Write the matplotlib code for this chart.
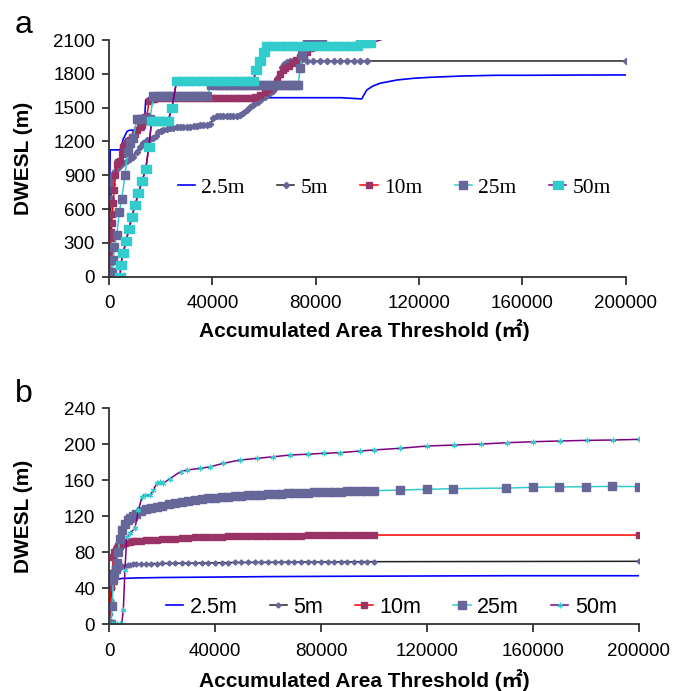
import matplotlib
matplotlib.use('Agg')
import matplotlib.pyplot as plt

plt.rcParams['font.family'] = ['Liberation Sans', 'Noto Sans CJK SC', 'DejaVu Sans']

# ---------- panel a ----------
x_a_2p5 = [0, 250, 450, 2000, 4300, 5500, 7000, 8100, 11000, 13500, 13900, 14200, 15500, 30000,
           60000, 90000, 97800, 99750, 102000, 104900, 111400, 117800, 124300, 137200, 150100,
           163000, 180000, 200000]
y_a_2p5 = [0, 700, 1125, 1125, 1125, 1220, 1290, 1300, 1300, 1300, 1450, 1568, 1588, 1588,
           1588, 1588, 1577, 1656, 1690, 1716, 1745, 1760, 1769, 1781, 1787,
           1787, 1789, 1790]

x_a_5 = [0, 200, 400, 600, 800, 1000, 1300, 1600, 2000, 2300,
         3000, 4300, 5500, 6900, 8000, 9400, 10700, 12000, 13300, 14600,
         15900, 17100, 18100, 19100, 20000, 21000, 22300, 23600, 24900, 26200,
         27500, 28800, 30100, 31400, 32700, 34000, 35200, 36500, 37800, 39100,
         40400, 41700, 43000, 44200, 45500, 46800, 48100, 49400, 50700, 52000,
         53300, 54600, 55600, 56500, 57500, 58500, 59400, 60400, 61300, 62300,
         63300, 64300, 65500, 66900, 67800, 68800, 70000, 71300, 72600, 73900,
         76500, 79100, 81700, 84300, 86900, 89500, 92100, 94700, 97200, 99800,
         200000]
y_a_5 = [0, 150, 350, 550, 700, 820, 870, 900, 920, 935,
         955, 980, 1005, 1030, 1045, 1065, 1110, 1153, 1190, 1213,
         1220, 1228, 1250, 1280, 1290, 1300, 1310, 1316, 1320, 1325,
         1328, 1330, 1330, 1332, 1336, 1340, 1343, 1346, 1350, 1355,
         1405, 1426, 1426, 1426, 1426, 1426, 1426, 1426, 1432, 1449,
         1479, 1508, 1525, 1538, 1553, 1568, 1583, 1597, 1612, 1627,
         1650, 1672, 1774, 1863, 1890, 1907, 1912, 1914, 1914, 1914,
         1914, 1914, 1914, 1914, 1914, 1914, 1914, 1914, 1914, 1914,
         1914]

x_a_10 = [0, 150, 300, 450, 600, 750, 900, 1100, 1300, 1600,
          2000, 2500, 2900, 3500, 4200, 5000, 5500, 6200, 6800, 7400,
          8000, 8700, 9400, 10200, 11000, 12000, 12700, 13400, 14000, 14700,
          15500, 16500, 17500, 19000, 20500, 22000, 23500, 25000, 26500, 28000,
          29500, 31000, 32500, 34000, 35500, 37000, 38500, 40000, 41500, 43000,
          44500, 46000, 47500, 49000, 50500, 52000, 53500, 55000, 56500, 58500,
          60400, 62000, 63500, 65000, 66300, 67300, 68200, 69500, 70800, 72400,
          74000, 75300, 76600, 78000, 79500, 81000, 82000]
y_a_10 = [0, 60, 130, 200, 270, 340, 400, 480, 560, 650,
          770, 900, 1000, 1015, 1030, 1090, 1150, 1170, 1183, 1200,
          1215, 1230, 1242, 1270, 1300, 1330, 1350, 1380, 1420, 1430,
          1560, 1575, 1580, 1585, 1585, 1585, 1585, 1585, 1585, 1585,
          1585, 1585, 1585, 1585, 1585, 1585, 1585, 1585, 1585, 1585,
          1585, 1585, 1585, 1585, 1585, 1585, 1585, 1585, 1595, 1615,
          1640, 1665, 1695, 1740, 1800, 1830, 1850, 1870, 1893, 1920,
          1952, 1975, 1996, 2030, 2060, 2090, 2110]

x_a_25 = [0, 500, 1000, 1500, 2100, 3000, 4000, 4900, 6200, 7200,
          8100, 9400, 10700, 12000, 13300, 14600, 15800, 17200, 18500, 20000,
          21500, 23000, 24500, 26000, 27500, 29000, 30500, 32000, 33500, 35000,
          36500, 38000, 39500, 41000, 42500, 44000, 45500, 47000, 48500, 50000,
          51500, 53000, 54500, 56000, 57500, 59000, 60500, 62000, 63500, 65000,
          66500, 68000, 69500, 71000, 72500, 73200, 74000, 74800, 75600, 76500,
          78000, 79500, 81000, 82500]
y_a_25 = [0, 0, 44, 150, 266, 370, 577, 687, 902, 1109,
          1183, 1228, 1396, 1396, 1396, 1396, 1396, 1600, 1600, 1600,
          1600, 1600, 1600, 1600, 1600, 1600, 1600, 1600, 1600, 1600,
          1600, 1600, 1700, 1700, 1700, 1700, 1700, 1700, 1700, 1700,
          1700, 1700, 1700, 1700, 1700, 1700, 1700, 1700, 1700, 1700,
          1700, 1700, 1700, 1700, 1700, 1700, 1850, 1967, 2040, 2100,
          2100, 2100, 2100, 2100]

x_a_50 = [4300, 4500, 5500, 6600, 7700, 8800, 10100, 11400, 12800, 14200,
          15400, 16500, 18100, 19700, 21300, 22900, 24300, 26200, 28600, 31000,
          33400, 35800, 38200, 40600, 43000, 45400, 47800, 50200, 52600, 55000,
          55800, 57000, 58400, 59800, 61000, 63500, 66000, 68500, 71000, 73500,
          76000, 78500, 81000, 83500, 86000, 88500, 91000, 93500, 96000, 97500,
          99000, 101000, 104900, 109400, 117700, 125000, 136000]
y_a_50 = [0, 104, 210, 317, 420, 527, 635, 745, 850, 953,
          1150, 1384, 1384, 1384, 1384, 1384, 1494, 1740, 1740, 1740,
          1740, 1740, 1740, 1740, 1740, 1740, 1740, 1740, 1740, 1740,
          1740, 1830, 1916, 1990, 2047, 2047, 2047, 2047, 2047, 2047,
          2047, 2047, 2047, 2047, 2047, 2047, 2047, 2047, 2047, 2070,
          2070, 2070, 2100, 2129, 2124, 2129, 2129]
n_a_50_marked = 52   # markers stop at ~101000, line keeps going

# ---------- panel b ----------
x_b = [0, 400, 800, 1200, 1600, 2000, 2500, 3000, 3500, 4000,
       5000, 6000, 7000, 8000, 9000, 10000, 12000, 14000, 16000, 18000,
       20000, 22500, 25000, 27500, 30000, 32500, 35000, 37500, 40000, 42500,
       45000, 47500, 50000, 52500, 55000, 57500, 60000, 62500, 65000, 67500,
       70000, 72500, 75000, 77500, 80000, 82500, 85000, 87500, 90000, 92500,
       95000, 97500, 100000]

x_b_2p5 = [0, 300, 600, 900, 3000, 5000, 10000, 20000, 40000, 60000, 80000, 100000, 150000, 200000]
y_b_2p5 = [0, 20, 45, 49, 50, 51, 51.5, 52, 52.5, 53, 53.3, 53.5, 54, 54]

y_b_5 = [0, 12, 27, 40, 48, 53, 57, 60, 62, 63,
         64.5, 65.3, 66, 66.3, 66.6, 66.8, 67, 67.2, 67.4, 67.5,
         67.6, 67.7, 67.8, 67.9, 68, 68.1, 68.2, 68.3, 68.4, 68.5,
         68.6, 68.7, 68.7, 68.8, 68.8, 68.9, 68.9, 69, 69, 69.1,
         69.1, 69.2, 69.2, 69.3, 69.3, 69.4, 69.4, 69.5, 69.5, 69.5,
         69.6, 69.6, 69.6]
y_b_5_end = 70

y_b_10 = [0, 20, 42, 57, 75, 80, 83, 85, 86.5, 87.5,
          89, 90.2, 91, 91.7, 92.2, 92.6, 93.1, 93.5, 93.9, 94.2,
          94.5, 94.9, 95.3, 95.7, 96.1, 96.5, 96.8, 97.1, 97.3, 97.5,
          97.6, 97.7, 97.8, 97.9, 98, 98.1, 98.2, 98.3, 98.4, 98.5,
          98.6, 98.6, 98.7, 98.8, 98.8, 98.9, 98.9, 99, 99, 99.1,
          99.1, 99.2, 99.2]
y_b_10_end = 99.2

y_b_25 = [0, 0, 0, 20, 49, 55, 62, 68, 80, 95,
          105, 112, 116, 118.5, 120.5, 122.5, 126, 128, 129.5, 130.7,
          131.8, 133.2, 134.6, 136, 137.5, 138.5, 139.3, 140, 140.6, 141.2,
          141.8, 142.4, 142.9, 143.3, 143.7, 144.1, 144.5, 144.9, 145.2, 145.5,
          145.8, 146.1, 146.4, 146.7, 146.9, 147.1, 147.3, 147.5, 147.7, 147.9,
          148.1, 148.3, 148.5]
x_b_25_tail = [110000, 120000, 130000, 150000, 160000, 170000, 180000, 190000, 200000]
y_b_25_tail = [149.2, 150, 150.7, 151.4, 152.2, 152.6, 152.9, 153.3, 153]

x_b_50 = [0, 1000, 2000, 3000, 4000, 4800, 5400, 6000, 6700, 7900,
          9800, 11100, 12400, 13600, 15500, 16700, 18000, 19300, 20500, 23100,
          27000, 29400, 34400, 38200, 43200, 49500, 55800, 62100, 68400, 75000,
          81000, 87300, 94900, 99900, 110000, 120100, 130200, 140300, 150400, 160200,
          170200, 180300, 190400, 200000]
y_b_50 = [0, 0, 0, 0, 0, 0, 16, 60, 97, 101,
          106.7, 127, 141, 143.7, 143.7, 149, 156.7, 158.4, 156.7, 162,
          169.6, 171.4, 173.3, 175, 178.9, 182.6, 184.4, 186.2, 188.1, 189,
          190, 190.7, 192.6, 193.7, 195.6, 198.1, 199.2, 200.3, 201.8, 202.9,
          203.7, 204.4, 204.8, 205.5]

labels = ['2.5m', '5m', '10m', '25m', '50m']

# couleurs facon Excel
BLUE = '#0000FF'
BLACK = '#222222'
RED = '#FF0000'
MAROON = '#993366'
SLATE = '#666699'
CYAN = '#33CCCC'
PURPLE = '#800080'
RECT = [(-1.4, -1), (1.4, -1), (1.4, 1), (-1.4, 1), (-1.4, -1)]

fig = plt.figure(figsize=(6.73, 6.91), dpi=100)
ax_a = fig.add_axes([0.162, 0.5996, 0.7677, 0.3425])
ax_b = fig.add_axes([0.162, 0.0965, 0.7870, 0.3126])


def style(ax, ymax, ystep):
    ax.set_xlim(0, 200000)
    ax.set_ylim(0, ymax)
    ax.set_xticks(range(0, 200001, 40000))
    ax.set_yticks(range(0, ymax + 1, ystep))
    for s in ['top', 'right']:
        ax.spines[s].set_visible(False)
    for s in ['left', 'bottom']:
        ax.spines[s].set_linewidth(1.3)
        ax.spines[s].set_color('#333333')
    ax.tick_params(axis='x', length=6, width=1.3, pad=7.5, labelsize=13.5, color='#333333')
    ax.tick_params(axis='y', length=5, width=1.3, pad=5, labelsize=13.5, color='#333333')


# Panneau a
ax_a.plot(x_a_2p5, y_a_2p5, color=BLUE, lw=1.2, label=labels[0])
ax_a.plot(x_a_5, y_a_5, color=BLACK, lw=1.1, marker='D', ms=3.2, mfc=SLATE, mec=SLATE, label=labels[1])
ax_a.plot(x_a_10, y_a_10, color=RED, lw=1.1, marker='s', ms=5, mfc=MAROON, mec=MAROON, label=labels[2])
ax_a.plot(x_a_25, y_a_25, color=CYAN, lw=1.1, marker='s', ms=6, mfc=SLATE, mec=SLATE, label=labels[3])
ax_a.plot(x_a_50, y_a_50, color=PURPLE, lw=1.1)
ax_a.plot(x_a_50[:n_a_50_marked], y_a_50[:n_a_50_marked], color=PURPLE, lw=1.1,
          marker=RECT, ms=7.7, mfc=CYAN, mec=CYAN, label=labels[4])
style(ax_a, 2100, 300)
ax_a.legend(loc='center', bbox_to_anchor=(0.552, 0.375), ncol=5, frameon=False,
            prop={'family': 'Liberation Serif', 'size': 15.5},
            handlelength=0.8, handletextpad=0.3, columnspacing=1.5)

# Panneau b
ax_b.plot(x_b_2p5, y_b_2p5, color=BLUE, lw=1.2, label=labels[0])
ax_b.plot(x_b + [200000], y_b_5 + [y_b_5_end], color=BLACK, lw=1.1, marker='D', ms=2.6,
          mfc=SLATE, mec=SLATE, label=labels[1])
ax_b.plot(x_b + [200000], y_b_10 + [y_b_10_end], color=RED, lw=1.1, marker='s', ms=4.3,
          mfc=MAROON, mec=MAROON, label=labels[2])
ax_b.plot(x_b + x_b_25_tail, y_b_25 + y_b_25_tail, color=CYAN, lw=1.1, marker='s', ms=5.3,
          mfc=SLATE, mec=SLATE, label=labels[3])
ax_b.plot(x_b_50, y_b_50, color=PURPLE, lw=1.1, marker=(6, 2, 0), ms=4, mew=0.8,
          mec=CYAN, label=labels[4])
style(ax_b, 240, 40)
ax_b.legend(loc='center', bbox_to_anchor=(0.533, 0.08), ncol=5, frameon=False,
            prop={'family': 'Liberation Sans', 'size': 15.5},
            handlelength=0.8, handletextpad=0.3, columnspacing=1.5)

# Etiquettes
for yc in [0.771, 0.2528]:
    fig.text(0.035, yc, 'DWESL (m)', rotation=90, ha='center', va='center',
             fontsize=15, fontweight='bold')
for yc in [0.523, 0.0152]:
    fig.text(0.541, yc, 'Accumulated Area Threshold (\u33a1)', ha='center', va='center',
             fontsize=15, fontweight='bold')
fig.text(0.022, 0.952, 'a', fontsize=23, va='baseline')
fig.text(0.022, 0.418, 'b', fontsize=23, va='baseline')

fig.savefig('out.png', dpi=100)
plt.close(fig)
